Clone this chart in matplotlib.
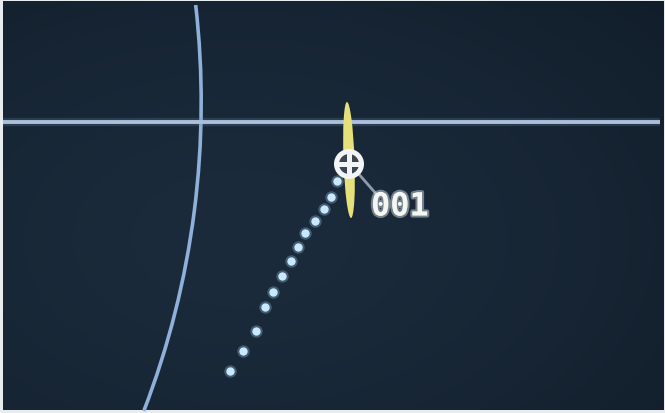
import numpy as np
import matplotlib
matplotlib.use("Agg")
import matplotlib.pyplot as plt
from matplotlib.patches import Ellipse, Circle, Arc
import matplotlib.patheffects as pe

# ---- data (pixel-space display coordinates) ----
ring_center = (-657.5, 103.3)
ring_radius = 858.7
ring_y_top = 6
ring_y_bottom = 412

heading_line_x = [3, 660]
heading_line_y = [123, 123]

trail_x = [337, 331, 324, 315, 305, 298, 291, 282, 273, 265, 256, 243, 230]
trail_y = [182, 198, 210, 222, 234, 248, 262, 277, 293, 308, 332, 352, 372]

target_x = 349
target_y = 165
target_label = "001"
label_x = 371
label_y = 208

ellipse_center = (349, 161)
ellipse_size = (11, 116)
ellipse_angle = -2

W, H = 665, 414
fig = plt.figure(figsize=(W / 100, H / 100), dpi=100, facecolor="#e8ecef")
ax = fig.add_axes([0, 0, 1, 1])
ax.set_xlim(0, W)
ax.set_ylim(H, 0)
ax.axis("off")

# background screen with gentle vignette
yy, xx = np.mgrid[0:H, 0:W]
cx, cy = 240, 240
r = np.sqrt(((xx - cx) / 600) ** 2 + ((yy - cy) / 380) ** 2)
base = np.array([0x1b, 0x2b, 0x3b]) / 255
edge = np.array([0x10, 0x1c, 0x29]) / 255
t = np.clip(r, 0, 1)[..., None] ** 1.6
img = base * (1 - t) + edge * t
ax.imshow(img, extent=(3, W - 1, 411, 2), zorder=0, interpolation="bilinear")

glow = [pe.Stroke(linewidth=6, foreground="#6f8fb8", alpha=0.22), pe.Normal()]

# range ring (circular arc)
th1 = np.degrees(np.arctan2(ring_y_top - ring_center[1],
                            np.sqrt(ring_radius**2 - (ring_y_top - ring_center[1])**2)))
th2 = np.degrees(np.arctan2(ring_y_bottom - ring_center[1],
                            np.sqrt(ring_radius**2 - (ring_y_bottom - ring_center[1])**2)))
ax.add_patch(Arc(ring_center, 2 * ring_radius, 2 * ring_radius, theta1=th1,
                 theta2=th2, color="#8fb0da", lw=2.6, zorder=2))
# heading line
ax.plot(heading_line_x, heading_line_y, color="#adc0da", lw=2.8, zorder=2,
        solid_capstyle="butt", path_effects=glow)

# trail dots
ax.scatter(trail_x, trail_y, s=80, color="#9fd0f5", alpha=0.3, lw=0, zorder=3)
ax.scatter(trail_x, trail_y, s=36, color="#c8e8fd", lw=0, zorder=3)

# yellow uncertainty ellipse
ax.add_patch(Ellipse(ellipse_center, ellipse_size[0], ellipse_size[1],
                     angle=ellipse_angle, facecolor="#e6e07a",
                     edgecolor="none", zorder=4))

# leader line
ax.plot([target_x + 8, label_x + 7], [target_y + 8, label_y - 11],
        color="#8c9cad", lw=2, zorder=4)

# target symbol
ax.add_patch(Circle((target_x, target_y), 12.5, facecolor="#3a4652",
                    edgecolor="#f2f4f6", lw=3.6, zorder=5))
ax.plot([target_x - 11, target_x + 11], [target_y, target_y],
        color="#f2f4f6", lw=3.6, zorder=6, solid_capstyle="butt")
ax.plot([target_x, target_x], [target_y - 11, target_y + 11],
        color="#f2f4f6", lw=3.6, zorder=6, solid_capstyle="butt")

# label
ax.text(label_x, label_y, target_label, fontsize=23, fontweight="bold",
        family="DejaVu Sans Mono", color="#f4f6f2", va="center", ha="left",
        zorder=6,
        path_effects=[pe.Stroke(linewidth=3, foreground="#cfd8e0", alpha=0.5),
                      pe.Normal()])

fig.savefig("out.png", dpi=100, facecolor=fig.get_facecolor())
